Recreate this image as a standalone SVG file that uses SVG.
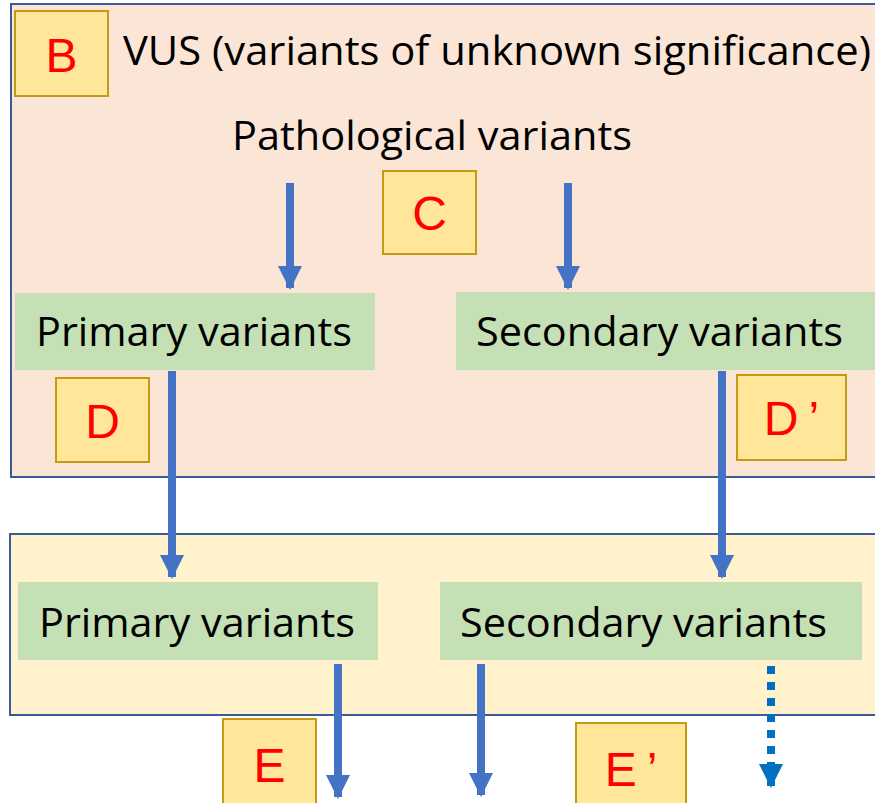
<svg xmlns="http://www.w3.org/2000/svg" width="875" height="803" viewBox="0 0 875 803">
<style>
.panel{stroke:#3c5a96;stroke-width:2}
.tag{fill:#ffe699;stroke:#c49a12;stroke-width:2}
.tagt{font-family:"Liberation Sans",Arial,sans-serif;font-size:48px;fill:#ff0000;text-anchor:middle}
.green{fill:#c5e0b4}
.t{font-family:"Open Sans","Noto Sans",sans-serif;font-size:40px;fill:#000}
.conn{stroke:#4472c4;stroke-width:8;fill:none}
</style>
<defs>
<marker id="ah" markerUnits="userSpaceOnUse" markerWidth="24" markerHeight="24" refX="22" refY="12" orient="auto" viewBox="0 0 24 24">
<path d="M0,0 L24,12 L0,24 Z" fill="#4472c4"/>
</marker>
<marker id="ah2" markerUnits="userSpaceOnUse" markerWidth="24" markerHeight="24" refX="22" refY="12" orient="auto" viewBox="0 0 24 24">
<path d="M0,0 L24,12 L0,24 Z" fill="#0070c0"/>
</marker>
</defs>
<g id="panel-top"><rect class="panel" x="11" y="4" width="880" height="473" fill="#fbe5d6"/></g>
<g id="panel-bottom"><rect class="panel" x="10" y="534" width="880" height="181" fill="#fff2cc"/></g>
<g id="tag-B"><rect class="tag" x="15" y="11" width="93" height="85"/><text class="tagt" x="61.5" y="72">B</text></g>
<g id="title"><text class="t" x="123" y="65" textLength="748" lengthAdjust="spacingAndGlyphs">VUS (variants of unknown significance)</text></g>
<g id="pathological"><text class="t" x="232" y="150" textLength="400" lengthAdjust="spacingAndGlyphs">Pathological variants</text></g>
<g id="tag-C"><rect class="tag" x="383" y="171" width="93" height="83"/><text class="tagt" x="429.5" y="230">C</text></g>
<g id="primary-top"><rect class="green" x="15" y="293" width="360" height="77"/><text class="t" x="36" y="346" textLength="316" lengthAdjust="spacingAndGlyphs">Primary variants</text></g>
<g id="secondary-top"><rect class="green" x="456" y="292" width="420" height="78"/><text class="t" x="476" y="346" textLength="367" lengthAdjust="spacingAndGlyphs">Secondary variants</text></g>
<g id="tag-D"><rect class="tag" x="56" y="378" width="93" height="84"/><text class="tagt" x="102.5" y="438">D</text></g>
<g id="tag-D2"><rect class="tag" x="737" y="375" width="109" height="85"/><text class="tagt" x="791.5" y="435"><tspan>D</tspan><tspan dx="10">’</tspan></text></g>
<g id="primary-bottom"><rect class="green" x="18" y="582" width="360" height="78"/><text class="t" x="39" y="637" textLength="316" lengthAdjust="spacingAndGlyphs">Primary variants</text></g>
<g id="secondary-bottom"><rect class="green" x="440" y="582" width="422" height="78"/><text class="t" x="460" y="637" textLength="367" lengthAdjust="spacingAndGlyphs">Secondary variants</text></g>
<g id="tag-E"><rect class="tag" x="223" y="719" width="93" height="90"/><text class="tagt" x="269.5" y="782">E</text></g>
<g id="tag-E2"><rect class="tag" x="576" y="723" width="110" height="90"/><text class="tagt" x="631" y="786"><tspan>E</tspan><tspan dx="10">’</tspan></text></g>
<g id="connectors">
<line class="conn" x1="290" y1="183" x2="290" y2="288" marker-end="url(#ah)"/>
<line class="conn" x1="568" y1="183" x2="568" y2="288" marker-end="url(#ah)"/>
<line class="conn" x1="172" y1="371" x2="172" y2="577" marker-end="url(#ah)"/>
<line class="conn" x1="722" y1="371" x2="722" y2="577" marker-end="url(#ah)"/>
<line class="conn" x1="338" y1="664" x2="338" y2="797" marker-end="url(#ah)"/>
<line class="conn" x1="481" y1="664" x2="481" y2="795" marker-end="url(#ah)"/>
<line x1="771" y1="666" x2="771" y2="786" stroke="#0070c0" stroke-width="8" stroke-dasharray="8 8" marker-end="url(#ah2)"/>
</g>
</svg>
